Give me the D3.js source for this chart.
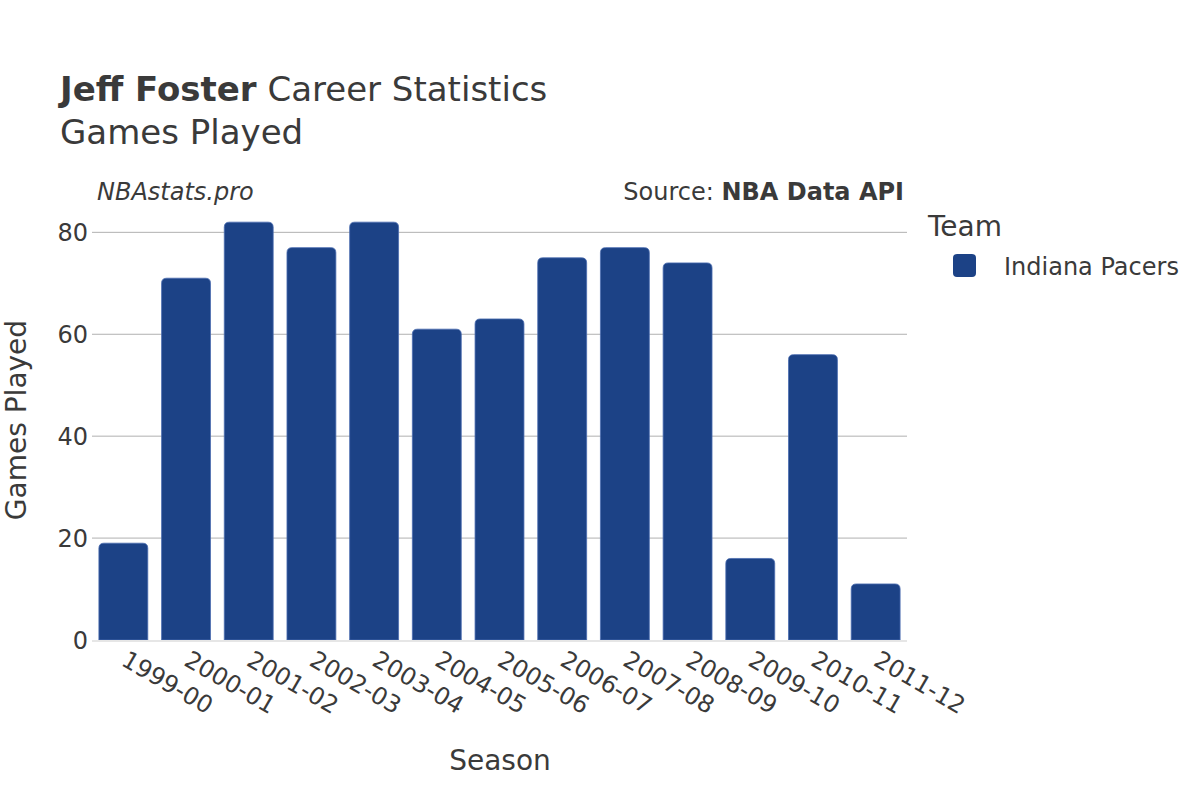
<!DOCTYPE html>
<html><head><meta charset="utf-8">
<script src="https://cdn.jsdelivr.net/npm/d3@7"></script>
<style>body{margin:0;background:#fff;} svg{display:block;font-family:"DejaVu Sans",sans-serif;}</style>
</head><body><svg id="c" width="1200" height="800"></svg>
<script>
const seasons = ["1999-00","2000-01","2001-02","2002-03","2003-04","2004-05","2005-06","2006-07","2007-08","2008-09","2009-10","2010-11","2011-12"];
const gamesPlayed = [19,71,82,77,82,61,63,75,77,74,16,56,11];
const yTicks = [0,20,40,60,80];
const teamName = "Indiana Pacers";

const svg = d3.select("#c");
const txt = "#3a3a3a";
const barColor = "#1c4286";
const m = {left:92, right:907, top:200, bottom:640};

const x = d3.scaleBand().domain(seasons).range([m.left, m.right]).paddingInner(0.22).paddingOuter(0.11);
const y = d3.scaleLinear().domain([0, 82*1.053]).range([m.bottom, m.top]);

// grid
svg.append("g").selectAll("line").data(yTicks.filter(d=>d>0)).join("line")
  .attr("x1", m.left).attr("x2", m.right)
  .attr("y1", d=>y(d)).attr("y2", d=>y(d))
  .attr("stroke","#b0b0b0").attr("stroke-width",1);

// bars with rounded tops
const r = 5;
svg.append("g").selectAll("path").data(gamesPlayed).join("path")
  .attr("d", (d,i)=>{
    const x0 = x(seasons[i]), w = x.bandwidth(), y0 = y(d), y1 = y(0);
    return `M${x0},${y1}V${y0+r}Q${x0},${y0} ${x0+r},${y0}H${x0+w-r}Q${x0+w},${y0} ${x0+w},${y0+r}V${y1}Z`;
  })
  .attr("fill", barColor).attr("stroke","#4a6cb0").attr("stroke-width",0.8);

// zero line
svg.append("line").attr("x1",m.left).attr("x2",m.right).attr("y1",y(0)+1).attr("y2",y(0)+1)
  .attr("stroke","#e6e6e6").attr("stroke-width",2);

// y axis labels
svg.append("g").selectAll("text").data(yTicks).join("text")
  .attr("x", 88).attr("y", d=>y(d)).attr("dy","0.36em").attr("text-anchor","end")
  .attr("font-size",24).attr("fill",txt).text(d=>d);

// x axis labels
svg.append("g").selectAll("text").data(seasons).join("text")
  .attr("transform", d=>`translate(${x(d)+x.bandwidth()/2+5},${650}) rotate(30)`)
  .attr("text-anchor","start").attr("dy","0.7em")
  .attr("font-size",24).attr("fill",txt).text(d=>d);

// axis titles
svg.append("text").attr("x",500).attr("y",770).attr("text-anchor","middle")
  .attr("font-size",28).attr("fill",txt).text("Season");
svg.append("text").attr("transform",`translate(26,420) rotate(-90)`).attr("text-anchor","middle")
  .attr("font-size",28).attr("fill",txt).text("Games Played");

// title
const t = svg.append("text").attr("x",60).attr("y",101).attr("font-size",34).attr("fill",txt);
t.append("tspan").attr("font-weight","bold").text("Jeff Foster");
t.append("tspan").text(" Career Statistics");
svg.append("text").attr("x",60).attr("y",144).attr("font-size",34).attr("fill",txt).text("Games Played");

// annotations
svg.append("text").attr("x",97).attr("y",200).attr("font-size",24).attr("font-style","italic").attr("fill",txt).text("NBAstats.pro");
const s = svg.append("text").attr("x",904).attr("y",200).attr("text-anchor","end").attr("font-size",24).attr("fill",txt);
s.append("tspan").text("Source: ");
s.append("tspan").attr("font-weight","bold").text("NBA Data API");

// legend
svg.append("text").attr("x",928).attr("y",236).attr("font-size",28).attr("fill",txt).text("Team");
svg.append("rect").attr("x",953).attr("y",254).attr("width",23).attr("height",23).attr("rx",4)
  .attr("fill",barColor);
svg.append("text").attr("x",1004).attr("y",266).attr("dy","0.36em").attr("font-size",24).attr("fill",txt).text(teamName);
</script></body></html>
